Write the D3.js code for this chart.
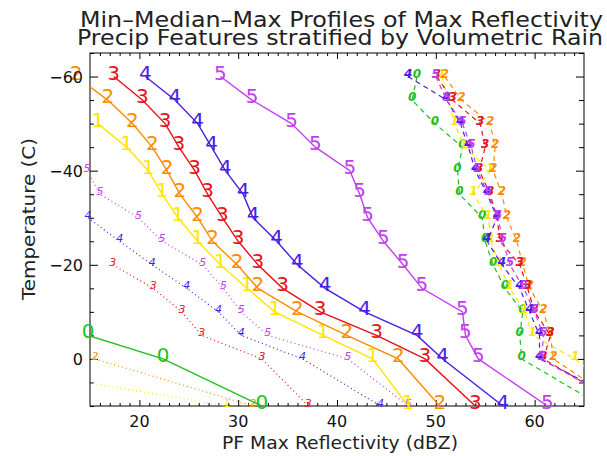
<!DOCTYPE html>
<html>
<head>
<meta charset="utf-8">
<script src="https://cdn.jsdelivr.net/npm/d3@7"></script>
<style>
  body { margin: 0; background: #fff; }
  text { font-family: "DejaVu Sans", sans-serif; }
</style>
</head>
<body>
<div id="chart"></div>
<script>
// Temperature levels (C) of every profile
const TEMPS = [-60, -55, -50, -45, -40, -35, -30, -25, -20, -15, -10, -5, 0, 10];

// Volumetric rain classes 0..5
const CLASSES = ["0", "1", "2", "3", "4", "5"];
const CLASS_COLORS = ["#1fbf1f", "#ffe600", "#ff8c00", "#e8101a", "#4a1ee6", "#c23ff0"];

// Min profiles (dotted), dBZ at each level, null = no value
const MIN_0 = [null, null, null, null, null, null, null, null, null, null, null, null, null, null];
const MIN_1 = [null, null, null, null, null, null, null, null, null, null, null, null, 0.5, 28.9];
const MIN_2 = [null, null, null, null, null, null, null, null, null, null, null, null, 15.5, 31.5];
const MIN_3 = [null, null, null, null, null, null, null, null, 17.3, 21.4, 24.3, 26.3, 32.4, 37.1];
const MIN_4 = [null, null, null, null, null, 11.5, 14.8, 18.0, 21.3, 24.8, 28.0, 30.3, 36.5, 44.4];
const MIN_5 = [null, null, null, 12.0, 14.7, 16.0, 19.9, 22.3, 26.4, 28.5, 30.3, 33.0, 41.1, 47.2];

// Median profiles (solid)
const MED_0 = [null, null, null, null, null, null, null, null, null, null, null, 14.8, 22.4, 32.4];
const MED_1 = [null, null, 15.8, 18.7, 20.9, 22.3, 23.9, 25.9, 28.2, 30.9, 33.7, 38.6, 43.6, 47.2];
const MED_2 = [13.6, 16.8, 19.3, 21.3, 22.8, 24.1, 25.9, 27.4, 29.9, 32.0, 36.0, 41.0, 46.2, 50.4];
const MED_3 = [17.4, 20.3, 22.6, 24.0, 25.6, 26.9, 28.4, 30.0, 32.0, 34.5, 38.3, 44.0, 48.9, 54.0];
const MED_4 = [20.6, 23.6, 25.9, 27.3, 28.7, 30.5, 31.5, 33.9, 36.0, 38.8, 42.8, 48.1, 50.7, 56.8];
const MED_5 = [28.2, 31.4, 35.4, 37.8, 41.3, 42.3, 43.1, 44.7, 46.7, 48.6, 52.7, 53.0, 54.3, 61.3];

// Max profiles (dashed)
const MAX_0 = [48.1, 47.6, 49.9, 52.7, 52.2, 52.4, 54.7, 55.0, 55.8, 57.0, 58.8, 58.5, 58.7, 66.8];
const MAX_1 = [50.6, 51.3, 51.9, 52.9, 55.5, 53.8, 55.3, 55.6, 56.4, 57.5, 59.0, 59.8, 64.1, 70.0];
const MAX_2 = [50.9, 52.6, 55.5, 56.0, 55.8, 56.7, 57.2, 58.2, 58.8, 59.5, 60.9, 61.6, 61.9, 69.0];
const MAX_3 = [50.1, 51.7, 54.5, 55.0, 54.4, 55.5, 56.2, 56.5, 58.5, 59.3, 60.0, 61.6, 60.9, 69.0];
const MAX_4 = [47.2, 51.1, 52.5, 53.3, 54.0, 55.2, 56.2, 55.2, 56.7, 58.5, 59.5, 60.5, 60.5, 70.0];
const MAX_5 = [50.0, 51.1, 52.7, 53.6, 54.2, 55.3, 56.3, 56.8, 57.5, 58.9, 60.0, 60.9, 60.7, 69.0];

const X_TICKS = [20, 30, 40, 50, 60];
const Y_TICKS = [0, -20, -40, -60];

const TITLE_1 = "Min\u2013Median\u2013Max Profiles of Max Reflectivity";
const TITLE_2 = "Precip Features stratified by Volumetric Rain";
const X_TITLE = "PF Max Reflectivity (dBZ)";
const Y_TITLE = "Temperature (C)";

// Dimensions
const W = 607, H = 456;
const plot = { left: 90, right: 584, top: 53, bottom: 406 };

const svg = d3.select("#chart").append("svg")
  .attr("width", W)
  .attr("height", H);

const x = d3.scaleLinear().domain([15, 65]).range([plot.left, plot.right]);
const y = d3.scaleLinear().domain([10, -65]).range([plot.bottom, plot.top]);

svg.append("defs").append("clipPath")
  .attr("id", "plot-clip")
  .append("rect")
  .attr("x", plot.left).attr("y", plot.top)
  .attr("width", plot.right - plot.left)
  .attr("height", plot.bottom - plot.top);

// Titles
svg.append("text")
  .attr("x", 80).attr("y", 27)
  .attr("textLength", 523).attr("lengthAdjust", "spacingAndGlyphs")
  .style("font-size", "21px").style("fill", "#222")
  .text(TITLE_1);
svg.append("text")
  .attr("x", 77).attr("y", 45)
  .attr("textLength", 526).attr("lengthAdjust", "spacingAndGlyphs")
  .style("font-size", "21px").style("fill", "#222")
  .text(TITLE_2);

// Axes (ticks point inward, like IDL)
const xMinor = d3.range(16, 65, 1).filter(v => v % 10 !== 0);
const yMinor = d3.range(-65, 11, 5).filter(v => v % 20 !== 0);

function addTicks(axisFn, scale, values, size, transform) {
  const g = svg.append("g")
    .attr("transform", transform)
    .call(axisFn(scale).tickValues(values).tickSize(size).tickSizeOuter(0).tickFormat(""));
  g.select(".domain").remove();
  g.selectAll("text").remove();
  g.selectAll("line").attr("stroke", "#000").attr("stroke-width", 1);
  return g;
}

addTicks(d3.axisBottom, x, xMinor, -3, `translate(0,${plot.bottom})`);
addTicks(d3.axisTop, x, xMinor, -3, `translate(0,${plot.top})`);
addTicks(d3.axisTop, x, X_TICKS, -6, `translate(0,${plot.top})`);
addTicks(d3.axisBottom, x, X_TICKS, -6, `translate(0,${plot.bottom})`);

addTicks(d3.axisLeft, y, yMinor, -4, `translate(${plot.left},0)`);
addTicks(d3.axisRight, y, yMinor, -5, `translate(${plot.right},0)`);
addTicks(d3.axisRight, y, Y_TICKS, -8, `translate(${plot.right},0)`);
addTicks(d3.axisLeft, y, Y_TICKS, -8, `translate(${plot.left},0)`);

// Frame
svg.append("rect")
  .attr("x", plot.left).attr("y", plot.top)
  .attr("width", plot.right - plot.left)
  .attr("height", plot.bottom - plot.top)
  .attr("fill", "none")
  .attr("stroke", "#000")
  .attr("stroke-width", 1);

// Axis titles
svg.append("text")
  .attr("x", 222).attr("y", 449)
  .attr("textLength", 236).attr("lengthAdjust", "spacingAndGlyphs")
  .style("font-size", "17px").style("fill", "#222")
  .text(X_TITLE);
svg.append("text")
  .attr("transform", "translate(35,300) rotate(-90)")
  .attr("textLength", 162).attr("lengthAdjust", "spacingAndGlyphs")
  .style("font-size", "17px").style("fill", "#222")
  .text(Y_TITLE);

// Profiles
const groups = [
  { name: "min", series: [MIN_0, MIN_1, MIN_2, MIN_3, MIN_4, MIN_5],
    dash: "1,3", width: 1.2, font: 11, italic: true, bold: false, dy: 1 },
  { name: "max", series: [MAX_0, MAX_1, MAX_2, MAX_3, MAX_4, MAX_5],
    dash: "5,4", width: 1.2, font: 12, italic: true, bold: true, dy: 1 },
  { name: "median", series: [MED_0, MED_1, MED_2, MED_3, MED_4, MED_5],
    dash: null, width: 1.4, font: 20, italic: false, bold: false, dy: 3 }
];

const line = d3.line()
  .defined(d => d.v !== null)
  .x(d => x(d.v))
  .y(d => y(d.t));

groups.forEach(grp => {
  const g = svg.append("g").attr("class", "profiles-" + grp.name);

  grp.series.forEach((vals, i) => {
    let pts = TEMPS.map((t, k) => ({ t: t, v: vals[k] }));
    let color = CLASS_COLORS[i];

    g.append("path")
      .datum(pts.filter(d => d.v !== null))
      .attr("clip-path", "url(#plot-clip)")
      .attr("fill", "none")
      .attr("stroke", color)
      .attr("stroke-width", grp.width)
      .attr("stroke-dasharray", grp.dash)
      .attr("d", line);

    // number labels at each level (only where they land on the page)
    g.selectAll(".lbl-" + i)
      .data(pts.filter(d => d.v !== null && d.v > 13 && d.v < 65.5))
      .enter()
      .append("text")
      .attr("class", "lbl-" + i)
      .attr("x", d => x(d.v))
      .attr("y", d => y(d.t) + grp.dy)
      .attr("text-anchor", "middle")
      .style("font-size", grp.font + "px")
      .style("font-style", grp.italic ? "italic" : "normal")
      .style("font-weight", grp.bold ? "bold" : "normal")
      .style("fill", color)
      .text(CLASSES[i]);
  });
});

// Tick labels, drawn last so nothing sits over them
svg.append("g").attr("class", "x-labels")
  .selectAll("text")
  .data(X_TICKS)
  .enter()
  .append("text")
  .attr("x", d => x(d))
  .attr("y", plot.bottom + 21)
  .attr("text-anchor", "middle")
  .style("font-size", "16px").style("fill", "#111")
  .text(d => d);

svg.append("g").attr("class", "y-labels")
  .selectAll("text")
  .data(Y_TICKS)
  .enter()
  .append("text")
  .attr("x", plot.left - 7)
  .attr("y", d => y(d) + 6)
  .attr("text-anchor", "end")
  .style("font-size", "16px").style("fill", "#111")
  .text(d => d === 0 ? "0" : "\u2212" + Math.abs(d));
</script>
</body>
</html>
